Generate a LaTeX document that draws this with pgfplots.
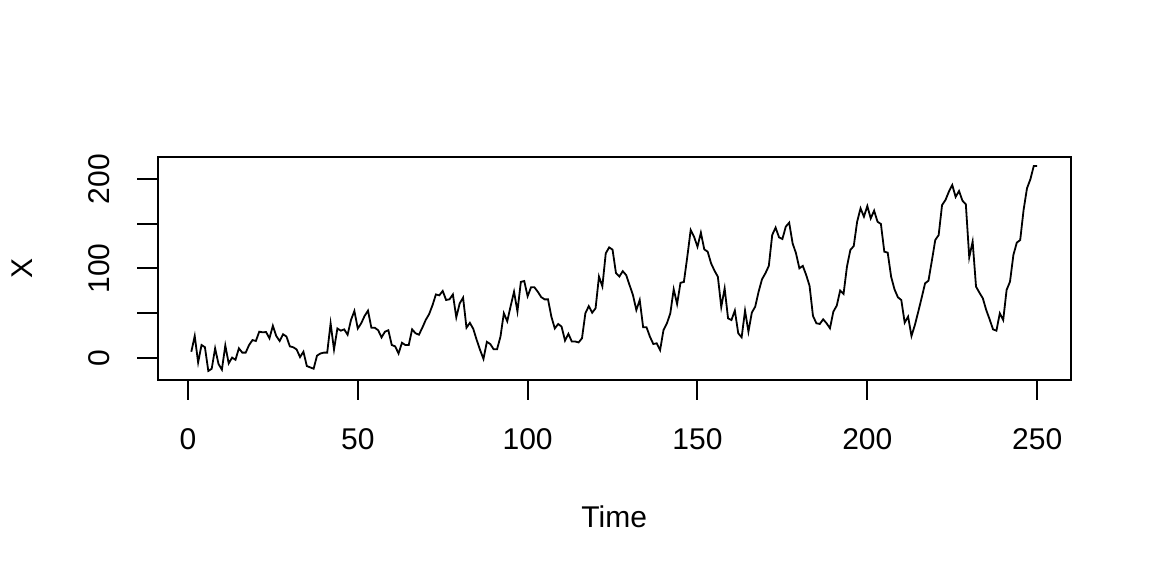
\documentclass[border=0pt]{standalone}
\usepackage{fontspec}
\setmainfont{Liberation Sans}
\usepackage{pgfplots}
\pgfplotsset{compat=1.18}
\usepackage{pgfplotstable}

% series X (t = 1..250)
\pgfplotstableread{
t v
1 7
2 24.6
3 -5
4 14.5
5 12
6 -14.5
7 -12
8 10.8
9 -6.7
10 -13
11 14
12 -6
13 0.4
14 -2
15 10.8
16 6
17 6
18 14.5
19 20
20 19
21 29.4
22 28.7
23 29
24 22
25 36
26 24.6
27 19
28 26.5
29 24
30 13
31 12
32 9.5
33 1
34 7
35 -9
36 -10.5
37 -12
38 2.6
39 5
40 6
41 6
42 38.7
43 9.5
44 33
45 30.5
46 32
47 26
48 42.5
49 52.5
50 33
51 38.7
52 46.9
53 52.9
54 33.8
55 33.8
56 31
57 23
58 29.4
59 31
60 14.5
61 13
62 5
63 17
64 14.5
65 14.5
66 32
67 27.6
68 26
69 33.8
70 42.5
71 49
72 59
73 71
74 70
75 74.9
76 64.8
77 65.6
78 71
79 45.4
80 61
81 67.4
82 33.8
83 39.3
84 32.5
85 20.2
86 9
87 -1
88 18
89 15.6
90 9.7
91 9.7
92 23.8
93 50
94 41
95 58
96 74
97 52
98 85
99 86
100 69
101 79
102 79
103 74
104 68
105 65.5
106 65.5
107 46
108 33
109 38
110 35
111 19.5
112 27
113 18.4
114 18.4
115 17.4
116 22
117 50
118 58
119 50.6
120 55.5
121 91
122 80
123 117
124 123.6
125 121
126 95
127 91
128 97
129 92.7
130 81.5
131 70.4
132 53.6
133 64.8
134 34.3
135 34.3
136 23.8
137 15.6
138 16.4
139 8.9
140 31.3
141 38.7
142 49.9
143 76.8
144 60.3
145 84
146 85
147 113
148 143
149 135.5
150 124.3
151 140
152 121.4
153 118.8
154 105.8
155 97.6
156 90.8
157 57
158 77.8
159 44.3
160 42.4
161 53
162 27.6
163 23.1
164 52.9
165 29.4
166 50.7
167 57.4
168 74.1
169 88
170 94.7
171 102.9
172 137.5
173 145.7
174 134.9
175 133
176 146.8
177 151.2
178 128.2
179 117
180 100.2
181 102.9
182 92.8
183 80.5
184 47
185 38.8
186 38
187 43.2
188 38.8
189 33.2
190 51.8
191 58.5
192 75.3
193 71.5
194 102
195 120.7
196 125.1
197 152.3
198 167.2
199 157.9
200 169.8
201 156
202 164.6
203 152.3
204 149.7
205 118.8
206 117.7
207 90.9
208 76.7
209 67.8
210 64.8
211 39.5
212 46.2
213 24.6
214 36.9
215 51.8
216 67.4
217 83.4
218 86.4
219 108.8
220 131.8
221 137.4
222 170.9
223 176.5
224 185.8
225 193.3
226 180
227 186.6
228 175.8
229 171.7
230 112.5
231 130
232 79.7
233 73
234 66.7
235 53.6
236 43.2
237 32
238 30.5
239 49.9
240 42.4
241 76
242 85.3
243 115.1
244 128.9
245 131.8
246 165.4
247 189.6
248 199.7
249 214.6
250 214.6
}\series

\begin{document}
\begin{tikzpicture}
\path[use as bounding box] (0,0) rectangle (576bp,288bp);
\begin{axis}[
    at={(78.75bp,98bp)}, anchor=south west,
    scale only axis,
    width=456.75bp, height=111.5bp,
    xmin=-8.96, xmax=259.96,
    ymin=-24.6, ymax=224.6,
    axis line style={line width=1bp},
    tick style={line width=1bp, black},
    major tick length=10bp,
    tick align=outside,
    xtick pos=left, ytick pos=left,
    xtick={0,50,...,250},
    ytick={0,50,...,200},
    yticklabels={0,,100,,200},
    scaled ticks=false,
    /pgf/number format/assume math mode=true,
    font=\fontsize{15bp}{18bp}\selectfont,
    every x tick label/.style={anchor=center, yshift=-19.5bp},
    every y tick label/.style={xshift=-19bp, rotate=90, anchor=center},
    xlabel={Time},
    ylabel={X},
    xlabel style={at={(axis description cs:0.5,-0.6143)}, anchor=center},
    ylabel style={at={(axis description cs:-0.1478,0.5)}, anchor=center, rotate=0},
  ]
  \addplot[black, line width=0.9bp, mark=none] table[x=t, y=v] {\series};
\end{axis}
\end{tikzpicture}
\end{document}
